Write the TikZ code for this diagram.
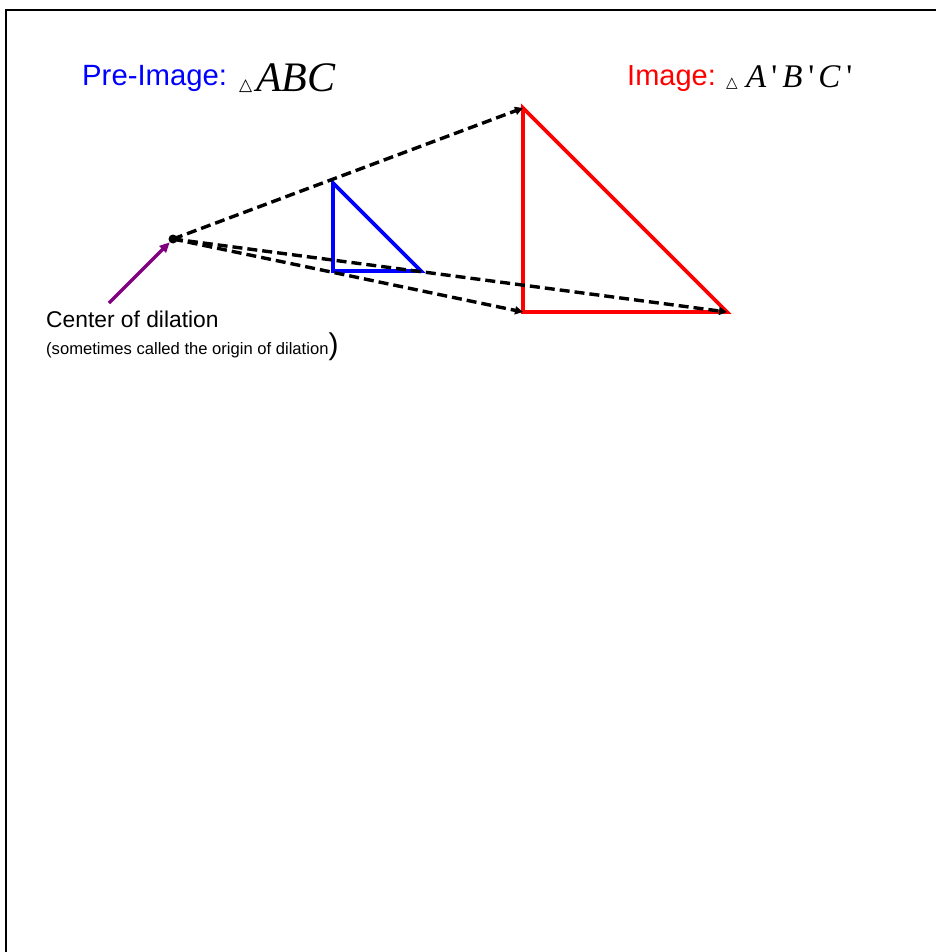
\documentclass[tikz,border=0pt]{standalone}
\usepackage{fontspec}
\setmainfont{Liberation Sans}
\newfontfamily\tms{Liberation Serif}
\newfontfamily\symf{DejaVu Sans}
\usetikzlibrary{arrows.meta}
\definecolor{pblue}{RGB}{0,0,255}
\definecolor{pred}{RGB}{255,0,0}
\definecolor{ppurple}{RGB}{128,0,128}
\tikzset{
  ray/.style={line width=3.4pt, dash pattern=on 10pt off 5pt, -{Triangle[length=8pt,width=8pt]}},
  pre/.style={pblue, line width=3.8pt, line join=miter},
  img/.style={pred, line width=3.8pt, line join=miter},
  lbl/.style={inner sep=0pt, anchor=base west},
  frame/.style={line width=2.8pt}
}
\begin{document}
\begin{tikzpicture}[x=1pt,y=-1pt]
\useasboundingbox (0,0) rectangle (936,952);
\draw[frame] (6,952) -- (6,10) -- (936,10);
% points
\coordinate (O) at (173,239);
\coordinate (A) at (333,183);
\coordinate (B) at (333,271);
\coordinate (C) at (421,271);
\coordinate (A1) at (523,108);
\coordinate (B1) at (523,312);
\coordinate (C1) at (727,312);
% triangles
\draw[img] (A1) -- (B1) -- (C1) -- cycle;
\draw[pre] (A) -- (B) -- (C) -- cycle;
% rays
\draw[ray] (O) -- (A1);
\draw[ray] (O) -- (B1);
\draw[ray] (O) -- (C1);
\node[circle, fill=black, inner sep=0pt, minimum size=9pt] (Odot) at (O) {};
% purple arrow
\coordinate (P) at (109,303);
\draw[ppurple, line width=3.3pt, -{Triangle[length=10pt,width=9pt]}] (P) -- (Odot);
% labels
\node[lbl, text=pblue, font=\fontsize{29.3}{34}\selectfont] (pre) at (82,86) {Pre-Image:};
\node[lbl, font=\symf\fontsize{17}{20}\selectfont] (t1) at (239,91) {△};
\node[lbl, font=\tms\itshape\fontsize{42}{48}\selectfont] (abc) at (256,92) {ABC};
\node[lbl, text=pred, font=\fontsize{29}{34}\selectfont] (img) at (627,86) {Image:};
\node[lbl, font=\symf\fontsize{15}{18}\selectfont] (t2) at (726,88) {△};
\node[lbl, font=\tms\itshape\fontsize{33}{38}\selectfont] (abc1) at (746,88) {A\kern5pt{\upshape'}\kern5pt B\kern6pt{\upshape'}\kern4pt C\kern6pt{\upshape'}};
\node[lbl, font=\fontsize{22.8}{26}\selectfont] (cod) at (46,327) {Center of dilation};
\node[lbl, font=\fontsize{16.6}{19}\selectfont] (sub) at (46,354) {(sometimes called the origin of dilation\fontsize{30}{34}\selectfont)};
\end{tikzpicture}
\end{document}
